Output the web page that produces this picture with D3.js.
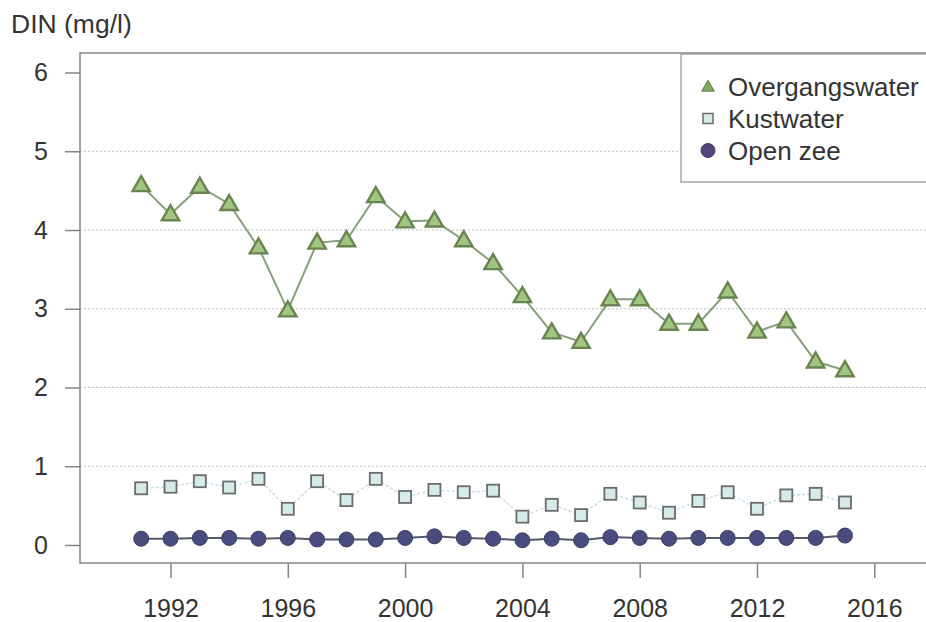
<!DOCTYPE html>
<html>
<head>
<meta charset="utf-8">
<script src="https://cdn.jsdelivr.net/npm/d3@7/dist/d3.min.js"></script>
<style>
  html, body { margin: 0; padding: 0; background: #fff; }
  svg { display: block; font-family: "Liberation Sans", Arial, sans-serif; }
</style>
</head>
<body>
<svg id="chart" width="926" height="622"></svg>
<script>
const years = [1991,1992,1993,1994,1995,1996,1997,1998,1999,2000,2001,2002,2003,2004,2005,2006,2007,2008,2009,2010,2011,2012,2013,2014,2015];
const overgangswater = [4.57,4.20,4.55,4.33,3.78,2.98,3.84,3.87,4.43,4.11,4.12,3.87,3.58,3.16,2.70,2.58,3.12,3.12,2.81,2.81,3.22,2.71,2.84,2.33,2.22];
const kustwater = [0.72,0.74,0.81,0.73,0.84,0.46,0.81,0.57,0.84,0.61,0.70,0.67,0.69,0.36,0.51,0.38,0.65,0.54,0.41,0.56,0.67,0.46,0.63,0.65,0.54];
const openZee = [0.08,0.08,0.09,0.09,0.08,0.09,0.07,0.07,0.07,0.09,0.11,0.09,0.08,0.06,0.08,0.06,0.10,0.09,0.08,0.09,0.09,0.09,0.09,0.09,0.12];
const xTicks = [1992,1996,2000,2004,2008,2012,2016];
const yTicks = [0,1,2,3,4,5,6];
const gridTicks = [1,2,3,4,5];
const seriesNames = ["Overgangswater","Kustwater","Open zee"];
const yLabel = "DIN (mg/l)";

(function () {
const svg = d3.select("#chart");
const pLeft = 80, pTop = 53, pBottom = 563, pRight = 940;

const x = d3.scaleLinear().domain([1992, 2016]).range([170.5, 874.3]);
const y = d3.scaleLinear().domain([0, 6]).range([545, 72.5]);

const textColor = "#333";
const axisColor = "#858585";

// grid
svg.append("g").selectAll("line").data(gridTicks).join("line")
  .attr("x1", pLeft).attr("x2", pRight)
  .attr("y1", d => y(d)).attr("y2", d => y(d))
  .attr("stroke", "#bdbdbd").attr("stroke-width", 1.2)
  .attr("stroke-dasharray", "2,2");

// plot box (open to the right edge)
svg.append("path")
  .attr("d", `M${pRight},${pTop}H${pLeft}V${pBottom}H${pRight}`)
  .attr("fill", "none").attr("stroke", axisColor).attr("stroke-width", 1.5);

// y axis
const yAxis = svg.append("g").attr("transform", `translate(${pLeft},0)`)
  .call(d3.axisLeft(y).tickValues(yTicks).tickFormat(d3.format("d"))
    .tickSizeInner(15).tickSizeOuter(0).tickPadding(17));
yAxis.select(".domain").remove();
yAxis.selectAll(".tick line").attr("stroke", axisColor).attr("stroke-width", 1.5);
yAxis.selectAll(".tick text").attr("fill", textColor).style("font-size", "25px");

// x axis
const xAxis = svg.append("g").attr("transform", `translate(0,${pBottom})`)
  .call(d3.axisBottom(x).tickValues(xTicks).tickFormat(d3.format("d"))
    .tickSizeInner(15).tickSizeOuter(0).tickPadding(21));
xAxis.select(".domain").remove();
xAxis.selectAll(".tick line").attr("stroke", axisColor).attr("stroke-width", 1.5);
xAxis.selectAll(".tick text").attr("fill", textColor).style("font-size", "25px");

// y label
svg.append("text").attr("x", 11).attr("y", 33)
  .attr("fill", textColor).style("font-size", "26.5px").text(yLabel);

const line = d3.line().x(d => x(d[0])).y(d => y(d[1]));
const pts = vals => years.map((yr, i) => [yr, vals[i]]);

const triFill = "#a2c682", triStroke = "#688450";
const sqFill = "#d5ebea", sqStroke = "#6b6b6b";
const cirFill = "#4a4c80", cirStroke = "#3b3d62";

// lines
svg.append("path").datum(pts(overgangswater)).attr("d", line)
  .attr("fill", "none").attr("stroke", "#86a078").attr("stroke-width", 2);
svg.append("path").datum(pts(kustwater)).attr("d", line)
  .attr("fill", "none").attr("stroke", "#c9dfe6").attr("stroke-width", 1.5)
  .attr("stroke-dasharray", "3,2");
svg.append("path").datum(pts(openZee)).attr("d", line)
  .attr("fill", "none").attr("stroke", "#55596e").attr("stroke-width", 2);

// markers
const triSym = d3.symbol().type(d3.symbolTriangle).size(130);
svg.append("g").selectAll("path").data(pts(overgangswater)).join("path")
  .attr("transform", d => `translate(${x(d[0])},${y(d[1]) + 1})`)
  .attr("d", triSym).attr("fill", triFill).attr("stroke", triStroke).attr("stroke-width", 2.4);

svg.append("g").selectAll("rect").data(pts(kustwater)).join("rect")
  .attr("x", d => x(d[0]) - 6).attr("y", d => y(d[1]) - 6)
  .attr("width", 12).attr("height", 12)
  .attr("fill", sqFill).attr("stroke", sqStroke).attr("stroke-width", 1.8);

svg.append("g").selectAll("circle").data(pts(openZee)).join("circle")
  .attr("cx", d => x(d[0])).attr("cy", d => y(d[1])).attr("r", 7.5)
  .attr("fill", cirFill).attr("stroke", cirStroke).attr("stroke-width", 1);

// legend
const lg = svg.append("g");
lg.append("rect").attr("x", 681).attr("y", 54).attr("width", 300).attr("height", 128)
  .attr("fill", "#fff").attr("stroke", "#9a9a9a").attr("stroke-width", 1.3);
const rowY = [86.5, 118.5, 150.5];
lg.append("path").attr("transform", `translate(708,${rowY[0] + 1})`)
  .attr("d", d3.symbol().type(d3.symbolTriangle).size(70))
  .attr("fill", "#7fa864").attr("stroke", "#5f8048").attr("stroke-width", 1);
lg.append("rect").attr("x", 703).attr("y", rowY[1] - 5).attr("width", 10).attr("height", 10)
  .attr("fill", sqFill).attr("stroke", sqStroke).attr("stroke-width", 1.5);
lg.append("circle").attr("cx", 708).attr("cy", rowY[2]).attr("r", 7)
  .attr("fill", "#54457a").attr("stroke", "#453866");
lg.selectAll("text.lab").data(seriesNames).join("text").attr("class", "lab")
  .attr("x", 728).attr("y", (d, i) => rowY[i]).attr("dy", "0.35em")
  .attr("fill", textColor).style("font-size", "26px").text(d => d);
})();
</script>
</body>
</html>
